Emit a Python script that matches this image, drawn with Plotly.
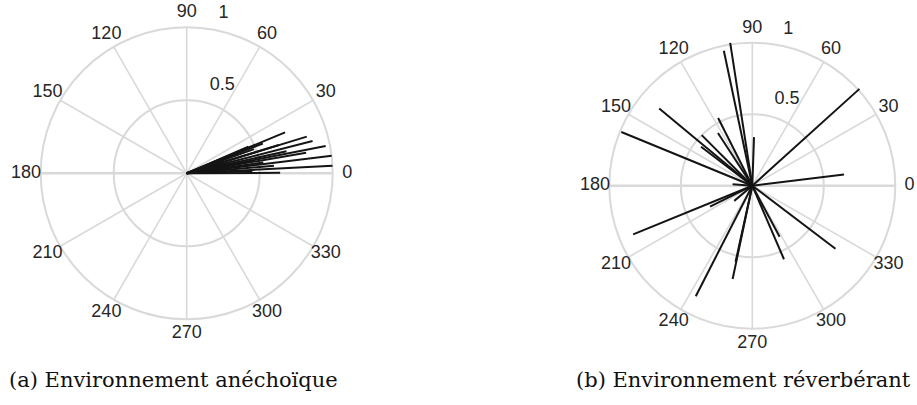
import plotly.graph_objects as go

# Left: anechoic environment (angle in degrees, magnitude)
anech_theta = [22.6, 17.0, 14.4, 11.1, 6.9, 3.0, 0.3, 21.4, 17.1, 9.8, 8.0, 19.8, 23.4, 5.0, 12.5, 2.0]
anech_r     = [0.73, 0.86, 0.89, 0.97, 1.00, 1.00, 0.64, 0.56, 0.66, 0.83, 0.53, 0.49, 0.46, 0.60, 0.70, 0.45]

# Right: reverberant environment
rev_theta = [98.8, 101.9, 42.1, 140.3, 157.7, 116.8, 123.1, 135.0, 142.8, 88.0, 7.0,
             176.0, 202.2, 206.4, 220.0, 242.9, 258.1, 257.6, 293.3, 298.1, 322.8]
rev_r     = [1.01, 0.965, 1.01, 0.846, 0.99, 0.53, 0.44, 0.50, 0.45, 0.34, 0.646,
             0.138, 0.90, 0.33, 0.165, 0.868, 0.667, 0.545, 0.56, 0.405, 0.73]

angle_ticks = list(range(0, 360, 30))
angle_labels = [str(a) for a in angle_ticks]
radial_ticks = [0.5, 1]
radial_labels = ["0.5", "1"]
radial_label_pos = [(0.65, 68.0), (1.12, 77.0)]
label_r = 1.1
r_max = 1.15

captions = ["(a) Environnement anéchoïque", "(b) Environnement réverbérant"]

GRID = "#d9d9d9"
TXT = "#262626"

fig = go.Figure()

def add_panel(theta, r, polar):
    # spokes every 30 degrees
    sr, st = [], []
    for a in angle_ticks:
        sr += [0, 1, None]
        st += [a, a, None]
    fig.add_trace(go.Scatterpolar(r=sr, theta=st, mode="lines",
                                  line=dict(color=GRID, width=1.6), subplot=polar,
                                  hoverinfo="skip", showlegend=False))
    # thicker horizontal spoke
    fig.add_trace(go.Scatterpolar(r=[1, 0, 1], theta=[180, 180, 0], mode="lines",
                                  line=dict(color=GRID, width=2.6), subplot=polar,
                                  hoverinfo="skip", showlegend=False))
    rr, tt = [], []
    for a, v in zip(theta, r):
        rr += [0, v, None]
        tt += [a, a, None]
    fig.add_trace(go.Scatterpolar(r=rr, theta=tt, mode="lines",
                                  line=dict(color="#141414", width=2.0),
                                  subplot=polar, showlegend=False, hoverinfo="skip"))
    fig.add_trace(go.Scatterpolar(r=[label_r] * len(angle_ticks), theta=angle_ticks,
                                  mode="text", text=angle_labels,
                                  textfont=dict(family="Liberation Sans, Arial", size=18, color=TXT),
                                  cliponaxis=False, subplot=polar, showlegend=False, hoverinfo="skip"))
    fig.add_trace(go.Scatterpolar(r=[p[0] for p in radial_label_pos],
                                  theta=[p[1] for p in radial_label_pos],
                                  mode="text", text=radial_labels,
                                  textfont=dict(family="Liberation Sans, Arial", size=18, color=TXT),
                                  cliponaxis=False, subplot=polar, showlegend=False, hoverinfo="skip"))

add_panel(anech_theta, anech_r, "polar")
add_panel(rev_theta, rev_r, "polar2")

def polar_layout(dx, dy):
    return dict(
        domain=dict(x=dx, y=dy),
        bgcolor="white",
        radialaxis=dict(range=[0, r_max], tickvals=radial_ticks, showticklabels=False,
                        showline=False, ticks="", gridcolor=GRID, gridwidth=1.8),
        angularaxis=dict(tickmode="array", tickvals=angle_ticks, showticklabels=False,
                         ticks="", showgrid=False, showline=False,
                         rotation=0, direction="counterclockwise"),
    )

fig.update_layout(
    width=917, height=405,
    margin=dict(l=0, r=0, t=0, b=0),
    paper_bgcolor="white",
    polar=polar_layout([0.0205, 0.3867], [0.1575, 0.9867]),
    polar2=polar_layout([0.64106, 0.99973], [0.13543, 0.94753]),
    annotations=[
        dict(text=captions[0], x=0.008, y=0.062, xref="paper", yref="paper",
             xanchor="left", yanchor="middle", showarrow=False,
             font=dict(family="DejaVu Serif", size=21, color="#111")),
        dict(text=captions[1], x=0.996, y=0.062, xref="paper", yref="paper",
             xanchor="right", yanchor="middle", showarrow=False,
             font=dict(family="DejaVu Serif", size=21, color="#111")),
    ],
)

fig.write_html("out.html")
